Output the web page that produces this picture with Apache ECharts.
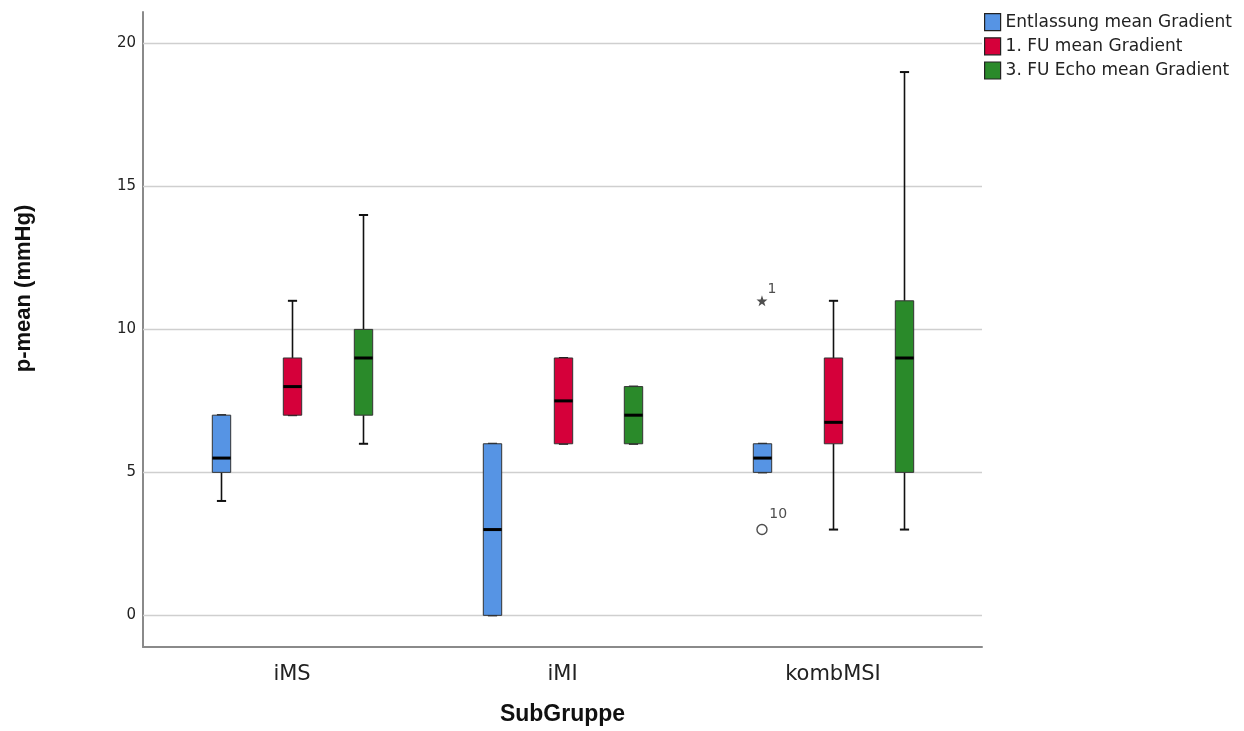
<!DOCTYPE html>
<html>
<head>
<meta charset="utf-8">
<script src="https://cdn.jsdelivr.net/npm/echarts@6/dist/echarts.min.js"></script>
<style>
  html, body { margin: 0; padding: 0; background: #ffffff; }
  #chart { width: 1244px; height: 731px; }
</style>
</head>
<body>
<div id="chart"></div>
<script>
// Groups on the horizontal axis
const categories = ['iMS', 'iMI', 'kombMSI'];
// Measurement series
const seriesNames = ['Entlassung mean Gradient', '1. FU mean Gradient', '3. FU Echo mean Gradient'];
const seriesColors = ['#5694e4', '#d5003a', '#2a8a2a'];
// Box statistics per group: [min, Q1, median, Q3, max]
const entlassung = [[4, 5, 5.5, 7, 7], [0, 0, 3, 6, 6], [5, 5, 5.5, 6, 6]];
const fu1 = [[7, 7, 8, 9, 11], [6, 6, 7.5, 9, 9], [3, 6, 6.75, 9, 11]];
const fu3 = [[6, 7, 9, 10, 14], [6, 6, 7, 8, 8], [3, 5, 9, 11, 19]];
// Outliers of the Entlassung series (group index, value, case label, type)
const outlierGroup = [2, 2];
const outlierValue = [11, 3];
const outlierCase = ['1', '10'];
const outlierKind = ['extreme', 'outlier'];
// Value axis ticks
const yTicks = [0, 5, 10, 15, 20];

const boxStats = [entlassung, fu1, fu3];
const groupOffset = [-0.2625, 0, 0.2625];
const boxWidth = 0.068;
const capWidth = 0.034;
const xMin = -0.551, xMax = 2.551;
const yMin = -1.107, yMax = 21.1;

const starPath = 'path://M0,-10L2.35,-3.24L9.51,-3.09L3.8,1.24L5.88,8.09L0,4L-5.88,8.09L-3.8,1.24L-9.51,-3.09L-2.35,-3.24Z';

function crisp(v) { return Math.round(v) + 0.5; }

function boxRenderer(offset) {
  return function (params, api) {
    const x = api.value(0) + offset;
    const lo = api.coord([x, api.value(1)]);
    const q1 = api.coord([x, api.value(2)]);
    const md = api.coord([x, api.value(3)]);
    const q3 = api.coord([x, api.value(4)]);
    const hi = api.coord([x, api.value(5)]);
    const half = api.size([boxWidth, 0])[0] / 2;
    const capHalf = api.size([capWidth, 0])[0] / 2;
    const cx = crisp(lo[0]);
    const color = api.visual('color');
    const whisker = { stroke: '#111', lineWidth: 1.6 };
    return {
      type: 'group',
      children: [
        { type: 'line', shape: { x1: cx, y1: hi[1], x2: cx, y2: q3[1] }, style: whisker },
        { type: 'line', shape: { x1: cx, y1: q1[1], x2: cx, y2: lo[1] }, style: whisker },
        { type: 'line', shape: { x1: cx - capHalf, y1: hi[1], x2: cx + capHalf, y2: hi[1] }, style: { stroke: '#111', lineWidth: 2 } },
        { type: 'line', shape: { x1: cx - capHalf, y1: lo[1], x2: cx + capHalf, y2: lo[1] }, style: { stroke: '#111', lineWidth: 2 } },
        { type: 'rect', shape: { x: cx - half, y: q3[1], width: half * 2, height: q1[1] - q3[1] },
          style: { fill: color, stroke: '#333', lineWidth: 1 } },
        { type: 'line', shape: { x1: cx - half, y1: md[1], x2: cx + half, y2: md[1] }, style: { stroke: '#000', lineWidth: 3 } }
      ]
    };
  };
}

const boxSeries = boxStats.map(function (stats, s) {
  return {
    name: seriesNames[s],
    type: 'custom',
    renderItem: boxRenderer(groupOffset[s]),
    itemStyle: { color: seriesColors[s], borderColor: '#333', borderWidth: 1 },
    encode: { x: 0, y: [1, 2, 3, 4, 5] },
    data: stats.map(function (row, g) { return [g].concat(row); }),
    z: 3
  };
});

const gridLines = {
  type: 'custom',
  silent: true,
  renderItem: function (params, api) {
    const a = api.coord([xMin, api.value(0)]);
    const b = api.coord([xMax, api.value(0)]);
    const y = crisp(a[1]);
    return { type: 'line', shape: { x1: a[0], y1: y, x2: b[0], y2: y }, style: { stroke: '#cfcfcf', lineWidth: 1.5 } };
  },
  encode: { y: 0 },
  data: yTicks.map(function (v) { return [v]; }),
  z: 1
};

const outlierSeries = {
  type: 'scatter',
  silent: true,
  data: outlierValue.map(function (v, i) {
    const isExtreme = outlierKind[i] === 'extreme';
    return {
      value: [outlierGroup[i] + groupOffset[0], v],
      symbol: isExtreme ? starPath : 'circle',
      symbolSize: isExtreme ? 11 : 10,
      itemStyle: isExtreme
        ? { color: '#222', borderWidth: 0 }
        : { color: '#fff', borderColor: '#222', borderWidth: 1.4 },
      label: {
        show: true,
        formatter: outlierCase[i],
        position: isExtreme ? [11, -13] : [13, -17],
        fontFamily: 'DejaVu Sans',
        fontSize: 14,
        color: '#222'
      }
    };
  }),
  z: 4
};

const chart = echarts.init(document.getElementById('chart'), null, { renderer: 'canvas' });
chart.setOption({
  backgroundColor: '#ffffff',
  animation: false,
  grid: { left: 143, right: 262, top: 12, bottom: 83 },
  legend: {
    data: seriesNames,
    orient: 'vertical',
    left: 984,
    top: 13,
    padding: 0,
    icon: 'rect',
    itemWidth: 16,
    itemHeight: 17,
    itemGap: 6,
    selectedMode: false,
    itemStyle: { borderColor: '#222', borderWidth: 1.2 },
    textStyle: { fontFamily: 'DejaVu Sans', fontSize: 17, lineHeight: 17, color: '#222' }
  },
  xAxis: {
    type: 'value',
    min: xMin,
    max: xMax,
    name: 'SubGruppe',
    nameLocation: 'middle',
    nameGap: 56,
    nameTextStyle: { fontFamily: 'Liberation Sans', fontWeight: 'bold', fontSize: 23, color: '#111' },
    axisLine: { show: true, onZero: false, lineStyle: { color: '#8a8a8a', width: 2 } },
    axisTick: { show: false },
    splitLine: { show: false },
    axisLabel: {
      customValues: [0, 1, 2],
      formatter: function (v) { return categories[Math.round(v)]; },
      fontFamily: 'DejaVu Sans',
      fontSize: 21,
      color: '#222',
      margin: 17
    }
  },
  yAxis: {
    type: 'value',
    min: yMin,
    max: yMax,
    name: 'p-mean (mmHg)',
    nameLocation: 'middle',
    nameGap: 108,
    nameTextStyle: {
      fontFamily: 'Liberation Sans', fontWeight: 'bold', fontSize: 22, color: '#111',
      padding: [0, 0, 0, 82]
    },
    axisLine: { show: true, onZero: false, lineStyle: { color: '#8a8a8a', width: 2 } },
    axisTick: { show: false },
    splitLine: { show: false },
    axisLabel: {
      customValues: yTicks,
      fontFamily: 'DejaVu Sans',
      fontSize: 15,
      color: '#222',
      margin: 7
    }
  },
  series: [gridLines].concat(boxSeries, [outlierSeries])
});
</script>
</body>
</html>
